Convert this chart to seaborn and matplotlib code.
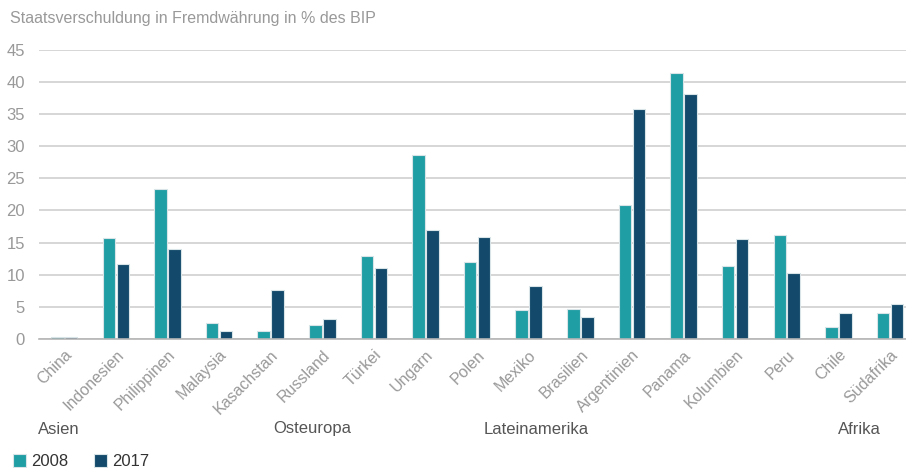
import pandas as pd
import matplotlib.pyplot as plt
import matplotlib.transforms as mtransforms
import seaborn as sns

# Data
countries = ["China", "Indonesien", "Philippinen", "Malaysia", "Kasachstan",
             "Russland", "Türkei", "Ungarn", "Polen", "Mexiko", "Brasilien",
             "Argentinien", "Panama", "Kolumbien", "Peru", "Chile", "Südafrika"]
debt_2008 = [0.3, 15.7, 23.4, 2.5, 1.2, 2.2, 12.9, 28.6, 12.0, 4.5, 4.6,
             20.9, 41.5, 11.3, 16.2, 1.9, 4.0]
debt_2017 = [0.3, 11.7, 14.0, 1.2, 7.6, 3.1, 11.1, 17.0, 15.8, 8.2, 3.4,
             35.8, 38.1, 15.6, 10.3, 4.1, 5.4]
years = ["2008", "2017"]
regions = ["Asien", "Osteuropa", "Lateinamerika", "Afrika"]
y_ticks = [0, 5, 10, 15, 20, 25, 30, 35, 40, 45]

df = pd.DataFrame({
    "Land": countries * 2,
    "Jahr": [years[0]] * len(countries) + [years[1]] * len(countries),
    "Wert": debt_2008 + debt_2017,
})

sns.set_theme(style="white")
plt.rcParams["font.family"] = ["Liberation Sans", "DejaVu Sans"]

grey = "#999999"
fig = plt.figure(figsize=(9.06, 4.68), dpi=100)
ax = fig.add_axes([0.043, 0.276, 0.957, 0.617])

sns.barplot(data=df, x="Land", y="Wert", hue="Jahr", ax=ax,
            palette=["#1f9ea3", "#134a6b"], saturation=1, width=0.54, gap=0.1,
            edgecolor="#d9e4e8", linewidth=0.8, legend=True)

ax.set_ylim(0, 45)
ax.set_xlim(-0.49, 16.31)
ax.set_yticks(y_ticks)
ax.yaxis.grid(True, color="#cfcfcf", linewidth=1.2)
ax.set_axisbelow(True)
for s in ["top", "right", "left"]:
    ax.spines[s].set_visible(False)
ax.spines["bottom"].set_color("#b5b5b5")
ax.spines["bottom"].set_linewidth(1.2)
ax.tick_params(axis="y", length=0, labelsize=12, labelcolor=grey, pad=10)
ax.tick_params(axis="x", length=0, labelsize=11.5, labelcolor=grey, pad=6)
plt.setp(ax.get_xticklabels(), rotation=45, ha="right", rotation_mode="anchor")
ax.set_xlabel("")
ax.set_ylabel("")

# Region labels under the country names
trans = mtransforms.blended_transform_factory(ax.transData, fig.transFigure)
region_x = [(-0.5, "left"), (4.8, "center"), (9.15, "center"), (15.4, "center")]
for name, (xpos, ha) in zip(regions, region_x):
    ax.text(xpos, 1 - 429 / 468, name, transform=trans, ha=ha, va="center",
            fontsize=12, color="#555555")

fig.text(0.011, 1 - 18 / 468, "Staatsverschuldung in Fremdwährung in % des BIP",
         fontsize=11.5, color=grey, va="center")

handles, labels = ax.get_legend_handles_labels()
ax.get_legend().remove()
fig.legend(handles, labels, loc="lower left", bbox_to_anchor=(-0.002, -0.035),
           ncol=2, frameon=False, fontsize=12, handlelength=0.75,
           handleheight=0.75, handletextpad=0.3, columnspacing=1.6,
           labelcolor="#333333")

plt.savefig("out.png", dpi=100)
